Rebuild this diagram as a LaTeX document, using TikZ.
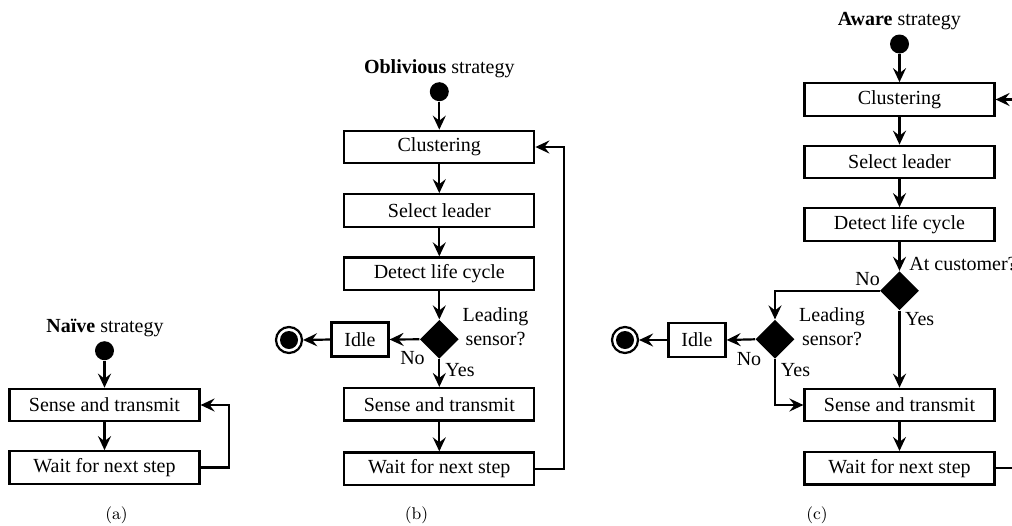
\documentclass[tikz,border=0pt]{standalone}
\usepackage{fontspec}
\newfontfamily\tnr{Liberation Serif}
\usetikzlibrary{arrows.meta,shapes.geometric}
\begin{document}
\begin{tikzpicture}[x=0.5pt,y=-0.5pt,
  every node/.style={font=\tnr\fontsize{10}{12}\selectfont},
  proc/.style={draw, line width=1.1pt, minimum width=95pt, minimum height=16.25pt, inner sep=0pt},
  idlebox/.style={draw, line width=1.1pt, minimum width=28.5pt, minimum height=17pt, inner sep=0pt},
  dec/.style={diamond, fill=black, inner sep=0pt, minimum size=19.5pt},
  startdot/.style={circle, fill=black, inner sep=0pt, minimum size=9.5pt},
  enddot/.style={circle, draw, line width=1.1pt, inner sep=0pt, minimum size=13pt,
    path picture={\fill[black] (path picture bounding box.center) circle (4.5pt);}},
  arr/.style={line width=1.1pt, -{Stealth[length=7pt,width=6.5pt,inset=2.5pt]}},
  lbl/.style={anchor=base},
  subcap/.style={font=\fontsize{8.5}{10}\selectfont},
]
\path[use as bounding box] (0,0) rectangle (1012,525);
\clip (0,0) rectangle (1012,525);

% ---------- (a) ----------
\node (ta) at (105,328) {\textbf{Naïve} strategy};
\node[startdot] (sa) at (104.5,350.7) {};
\node[proc] (a1) at (104.5,405) {Sense and transmit};
\node[proc] (a2) at (104.5,467.5) {Wait for next step};
\draw[arr] (sa) -- (a1);
\draw[arr] (a1) -- (a2);
\draw[arr] (a2.east) -- ++(28.5,0) |- (a1.east);
\node[subcap] (capa) at (116.5,515) {(a)};

% ---------- (b) ----------
\node (tb) at (439.3,68.5) {\textbf{Oblivious} strategy};
\node[startdot] (sb) at (439.3,91.7) {};
\node[proc] (b1) at (439.3,147) {Clustering};
\node[proc] (b2) at (439.3,210.5) {Select leader};
\node[proc] (b3) at (439.3,273.7) {Detect life cycle};
\node[dec] (bd) at (439.3,339.3) {};
\node[idlebox] (bi) at (360,339.5) {Idle};
\node[enddot] (be) at (289,340) {};
\node[proc] (b4) at (439.3,404.3) {Sense and transmit};
\node[proc] (b5) at (439.3,468.7) {Wait for next step};
\node[align=center] (bq) at (495.5,326.5) {Leading\\sensor?};
\node[lbl] (bno) at (412.5,364) {No};
\node[lbl] (byes) at (460,376) {Yes};
\draw[arr] (sb) -- (b1);
\draw[arr] (b1) -- (b2);
\draw[arr] (b2) -- (b3);
\draw[arr] (b3) -- (bd.north);
\draw[arr] (bd.west) -- (bi.east);
\draw[arr] (bi.west) -- (be.east);
\draw[arr] (bd.south) -- (b4.north);
\draw[arr] (b4) -- (b5);
\draw[arr] (b5.east) -- ++(28.6,0) |- (b1.east);
\node[subcap] (capb) at (416.5,515) {(b)};

% ---------- (c) ----------
\node (tc) at (899.3,20.8) {\textbf{Aware} strategy};
\node[startdot] (sc) at (899.5,44) {};
\node[proc] (c1) at (899.5,99.5) {Clustering};
\node[proc] (c2) at (899.5,162) {Select leader};
\node[proc] (c3) at (899.5,224.5) {Detect life cycle};
\node[dec] (cd1) at (899.5,290.7) {};
\node[dec] (cd2) at (775,339.3) {};
\node[idlebox] (ci) at (697,340) {Idle};
\node[enddot] (ce) at (625,340) {};
\node[proc] (c4) at (899.5,405) {Sense and transmit};
\node[proc] (c5) at (899.5,468.3) {Wait for next step};
\node[anchor=base west, inner sep=0pt] (cq1) at (909,270) {At customer?};
\node[align=center] (cq2) at (832,327) {Leading\\sensor?};
\node[lbl] (cno1) at (867.7,285) {No};
\node[lbl] (cyes1) at (919.7,325) {Yes};
\node[lbl] (cno2) at (749,365) {No};
\node[lbl] (cyes2) at (795.5,376) {Yes};
\draw[arr] (sc) -- (c1);
\draw[arr] (c1) -- (c2);
\draw[arr] (c2) -- (c3);
\draw[arr] (c3) -- (cd1.north);
\draw[arr] (cd1.west) -| (cd2.north);
\draw[arr] (cd2.west) -- (ci.east);
\draw[arr] (ci.west) -- (ce.east);
\draw[arr] (cd2.south) |- (c4.west);
\draw[arr] (cd1.south) -- (c4.north);
\draw[arr] (c4) -- (c5);
\draw[arr] (c5.east) -- ++(28.6,0) |- (c1.east);
\node[subcap] (capc) at (817,515) {(c)};
\end{tikzpicture}
\end{document}
